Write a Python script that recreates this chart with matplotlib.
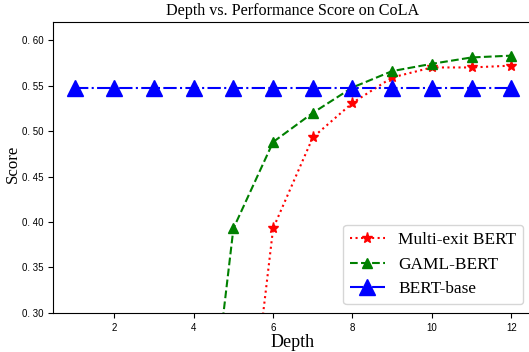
import matplotlib
matplotlib.use("Agg")
import matplotlib.pyplot as plt

depth = [1, 2, 3, 4, 5, 6, 7, 8, 9, 10, 11, 12]
multi_exit = [0.02, 0.02, 0.02, 0.02, 0.021, 0.393, 0.493, 0.531, 0.559, 0.570, 0.570, 0.572]
gaml = [0.02, 0.02, 0.02, 0.021, 0.393, 0.488, 0.520, 0.548, 0.566, 0.574, 0.581, 0.583]
bert_base = [0.547] * 12
yticks = [0.30, 0.35, 0.40, 0.45, 0.50, 0.55, 0.60]
ytick_labels = ['0. 30', '0. 35', '0. 40', '0. 45', '0. 50', '0. 55', '0. 60']

fig = plt.figure(figsize=(5.29, 3.52), dpi=100)
ax = fig.add_axes([0.100, 0.111, 0.9076, 0.8265])

ax.plot(depth, multi_exit, color='red', linestyle=':', marker='*', markersize=8, label='Multi-exit BERT')
ax.plot(depth, gaml, color='green', linestyle='--', marker='^', markersize=7, label='GAML-BERT')
ax.plot(depth, bert_base, color='blue', linestyle='-.', marker='^', markersize=11, label='BERT-base')

ax.set_ylim(0.30, 0.62)
ax.set_xlim(0.45, 12.55)
ax.set_xticks([2, 4, 6, 8, 10, 12])
ax.set_yticks(yticks)
ax.set_yticklabels(ytick_labels)
ax.tick_params(labelsize=7)
for lab in ax.get_xticklabels() + ax.get_yticklabels():
    lab.set_fontfamily('Liberation Sans')

ax.set_title('Depth vs. Performance Score on CoLA', fontfamily='Liberation Serif', fontsize=11.6, pad=5)
ax.set_xlabel('Depth', fontfamily='Liberation Serif', fontsize=13, labelpad=1)
ax.set_ylabel('Score', fontfamily='Liberation Serif', fontsize=12.2)
ax.yaxis.set_label_coords(-0.066, 0.512)
ax.legend(loc='lower right', prop={'family': 'Liberation Serif', 'size': 12.4},
          bbox_to_anchor=(0.98, 0.03), borderaxespad=0)

fig.savefig('out.png', dpi=100)
